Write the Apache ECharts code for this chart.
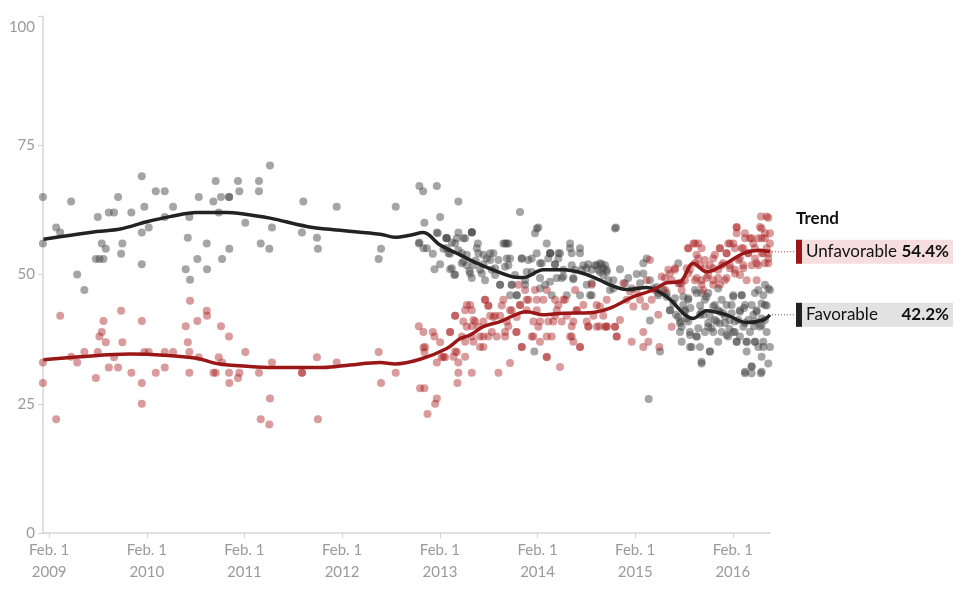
<!DOCTYPE html>
<html>
<head>
<meta charset="utf-8">
<title>Favorable / Unfavorable trend</title>
<script src="https://cdn.jsdelivr.net/npm/echarts@6/dist/echarts.min.js"></script>
<style>
  html, body { margin: 0; padding: 0; background: #fff; }
  #chart { width: 980px; height: 597px; }
</style>
</head>
<body>
<div id="chart"></div>
<script>
// poll readings, [decimal year, percent]
var favPolls = [
  [2009.021,65.0],[2009.021,56.0],[2009.157,59.1],[2009.198,58.1],[2009.310,64.1],[2009.372,50.0],[2009.446,47.0],[2009.563,53.0],[2009.583,61.1],[2009.600,53.0],[2009.624,56.0],[2009.641,53.0],[2009.665,55.0],[2009.696,62.0],[2009.750,62.0],[2009.791,65.0],[2009.822,54.0],[2009.835,56.0],[2009.927,62.0],
  [2010.034,69.0],[2010.034,58.1],[2010.034,52.0],[2010.060,63.1],[2010.105,59.1],[2010.177,66.1],[2010.269,66.1],[2010.269,61.1],[2010.354,63.1],[2010.484,51.0],[2010.505,57.1],[2010.521,61.1],[2010.528,49.0],[2010.603,53.0],[2010.617,65.0],[2010.699,56.0],[2010.702,51.0],[2010.767,64.1],[2010.791,68.1],[2010.822,62.0],[2010.845,65.0],[2010.856,53.0],[2010.927,65.0],[2010.929,65.0],[2010.930,55.0],
  [2011.019,68.1],[2011.033,66.1],[2011.094,60.0],[2011.234,68.1],[2011.234,66.1],[2011.252,56.0],[2011.340,55.0],[2011.347,71.1],[2011.367,59.1],[2011.674,58.1],[2011.688,64.1],[2011.828,57.1],[2011.838,55.0],
  [2012.030,63.1],[2012.459,53.0],[2012.483,55.0],[2012.633,63.1],[2012.869,56.0],[2012.875,67.1],[2012.913,66.1],[2012.926,60.0],[2012.916,55.1],[2012.951,55.1],[2012.875,56.2],
  [2013.012,54.0],[2013.029,51.0],[2013.053,67.1],[2013.053,58.1],[2013.063,58.0],[2013.087,61.1],[2013.087,52.0],[2013.121,55.0],[2013.148,57.0],[2013.155,57.1],[2013.155,55.1],[2013.189,54.0],[2013.189,51.0],[2013.207,56.2],[2013.233,49.9],[2013.241,50.0],[2013.258,57.0],[2013.274,64.1],[2013.274,58.1],[2013.309,54.1],[2013.325,52.5],[2013.343,57.0],[2013.360,51.8],[2013.387,50.7],[2013.411,58.1],[2013.413,58.1],[2013.411,49.3],[2013.452,52.7],[2013.473,56.0],[2013.479,54.1],[2013.496,50.9],[2013.530,52.0],[2013.547,48.9],[2013.565,53.1],[2013.599,54.1],[2013.616,50.9],[2013.650,49.9],[2013.684,52.8],[2013.701,48.0],[2013.735,56.0],[2013.752,51.5],[2013.769,56.0],[2013.803,53.1],[2013.803,46.0],[2013.820,48.0],[2013.854,49.9],[2013.872,46.0],[2013.905,62.1],[2013.923,53.1],[2013.957,48.0],[2013.991,52.8],
  [2013.155,57.0],[2013.240,56.0],[2013.325,57.0],[2013.411,58.2],[2013.172,54.1],[2013.274,54.7],[2013.360,53.8],[2013.462,55.1],[2013.530,53.8],[2013.632,54.1],[2013.752,56.0],[2013.786,56.0],[2013.309,52.2],[2013.428,51.8],[2013.599,52.8],[2013.770,53.1],[2013.923,53.1],[2013.207,51.2],[2013.394,50.2],[2013.514,50.2],[2013.650,51.2],[2013.786,51.8],[2013.974,50.5],[2013.701,48.0],[2013.821,48.0],[2013.957,48.9],[2013.872,46.0],
  [2014.025,50.5],[2014.052,35.1],[2014.059,58.0],[2014.076,54.1],[2014.093,59.1],[2014.110,49.3],[2014.128,52.2],[2014.162,48.0],[2014.179,56.0],[2014.195,53.1],[2014.213,54.1],[2014.215,54.1],[2014.230,46.0],[2014.264,52.0],[2014.281,49.3],[2014.298,53.1],[2014.315,54.1],[2014.349,49.6],[2014.384,46.0],[2014.418,56.0],[2014.435,54.1],[2014.451,49.1],[2014.469,50.9],[2014.520,55.1],[2014.537,50.9],[2014.554,51.8],[2014.588,48.0],[2014.605,52.0],[2014.622,46.0],[2014.640,50.9],[2014.673,51.8],[2014.707,50.9],[2014.724,52.2],[2014.724,50.5],[2014.742,52.0],[2014.758,49.9],[2014.776,51.8],[2014.793,50.9],[2014.793,50.5],[2014.809,48.9],[2014.827,47.0],[2014.861,48.9],[2014.888,59.1],[2014.929,51.0],[2014.980,48.3],
  [2014.025,53.1],[2014.110,52.2],[2014.213,54.1],[2014.298,54.1],[2014.417,55.1],[2014.520,54.1],[2014.264,52.0],[2014.349,50.9],[2014.435,51.8],[2014.588,51.2],[2014.691,51.8],[2014.758,51.2],[2014.110,47.3],[2014.213,48.6],[2014.332,49.3],[2014.451,49.3],[2014.639,48.3],[2014.520,46.0],[2014.639,46.0],[2014.861,47.3],[2014.077,58.9],[2014.878,58.9],
  [2015.014,49.3],[2015.049,47.3],[2015.100,50.1],[2015.134,48.3],[2015.168,52.2],[2015.168,50.2],[2015.203,53.1],[2015.223,25.9],[2015.236,48.9],[2015.236,41.1],[2015.270,47.3],[2015.304,47.6],[2015.321,46.0],[2015.339,35.1],[2015.372,47.0],[2015.407,45.7],[2015.441,43.1],[2015.475,44.4],[2015.502,42.2],[2015.526,52.2],[2015.543,48.3],[2015.550,41.0],[2015.561,39.9],[2015.577,45.7],[2015.594,43.1],[2015.612,41.5],[2015.628,45.1],[2015.646,38.3],[2015.650,43.5],[2015.663,36.0],[2015.697,47.0],[2015.714,38.0],[2015.731,39.6],[2015.748,42.2],[2015.750,44.0],[2015.765,32.8],[2015.782,42.2],[2015.799,45.1],[2015.816,45.7],[2015.833,39.9],[2015.850,35.1],[2015.850,42.0],[2015.867,39.6],[2015.884,43.8],[2015.901,41.2],[2015.935,37.0],[2015.935,43.1],[2015.950,40.5],[2015.970,45.1],[2015.986,42.5],
  [2015.321,46.4],[2015.407,46.4],[2015.492,45.4],[2015.577,44.1],[2015.628,45.4],[2015.714,46.4],[2015.765,46.4],[2015.833,46.4],[2015.935,47.3],[2015.441,43.1],[2015.526,41.8],[2015.594,42.8],[2015.765,42.8],[2015.901,44.1],[2015.953,42.8],[2015.543,40.6],[2015.628,40.9],[2015.833,40.6],[2015.919,40.9],[2015.543,38.9],[2015.646,38.9],[2015.714,38.0],[2015.799,38.9],[2015.884,38.9],[2015.970,38.9],[2015.561,37.0],[2015.646,36.0],[2015.748,36.0],[2015.850,35.1],[2015.765,33.1],
  [2016.004,41.9],[2016.021,38.3],[2016.050,39.5],[2016.055,41.2],[2016.073,42.5],[2016.089,45.7],[2016.106,38.9],[2016.124,37.0],[2016.141,41.2],[2016.158,43.1],[2016.175,46.0],[2016.192,39.9],[2016.200,43.5],[2016.209,30.9],[2016.226,37.0],[2016.243,41.2],[2016.277,32.2],[2016.277,30.9],[2016.294,42.2],[2016.300,40.0],[2016.311,37.0],[2016.328,43.1],[2016.345,47.0],[2016.362,39.9],[2016.372,30.9],[2016.379,44.4],[2016.380,41.5],[2016.396,36.0],[2016.413,48.0],[2016.413,41.2],[2016.430,38.9],[2016.430,44.0],[2016.447,32.8],[2016.464,36.0],[2016.464,47.0],
  [2016.089,46.0],[2016.175,46.0],[2016.311,46.4],[2016.396,46.0],[2016.447,47.3],[2016.021,44.1],[2016.072,44.1],[2016.157,42.8],[2016.209,44.1],[2016.277,44.1],[2016.328,42.8],[2016.413,44.1],[2016.004,40.6],[2016.106,40.9],[2016.209,40.6],[2016.311,40.9],[2016.379,40.2],[2016.089,38.9],[2016.157,38.0],[2016.260,38.9],[2016.038,38.0],[2016.124,37.0],[2016.226,37.0],[2016.311,37.0],[2016.396,37.0],[2016.226,35.1],[2016.345,36.0],[2016.379,34.1],[2016.277,32.2],[2016.209,31.2],[2016.379,31.2]
];

var unfavPolls = [
  [2009.021,33.0],[2009.021,29.0],[2009.157,22.0],[2009.198,42.0],[2009.310,34.1],[2009.372,33.0],[2009.446,35.0],[2009.563,30.0],[2009.583,35.0],[2009.600,38.0],[2009.624,38.9],[2009.641,41.0],[2009.665,36.9],[2009.696,32.0],[2009.750,34.0],[2009.791,32.0],[2009.822,43.0],[2009.835,36.9],[2009.927,31.0],
  [2010.034,41.0],[2010.034,29.0],[2010.034,25.0],[2010.060,35.0],[2010.105,35.0],[2010.177,31.0],[2010.269,35.0],[2010.269,32.0],[2010.354,35.0],[2010.484,40.0],[2010.505,36.9],[2010.521,35.0],[2010.521,31.0],[2010.528,44.9],[2010.603,41.0],[2010.617,34.0],[2010.699,43.0],[2010.702,42.0],[2010.767,31.0],[2010.791,31.0],[2010.822,34.0],[2010.845,40.0],[2010.856,33.0],[2010.927,38.0],[2010.927,31.0],[2010.930,29.0],
  [2011.019,30.0],[2011.033,31.0],[2011.094,35.0],[2011.234,31.0],[2011.252,22.0],[2011.340,21.0],[2011.347,26.0],[2011.367,33.0],[2011.674,31.0],[2011.676,31.0],[2011.828,34.0],[2011.838,22.0],
  [2012.030,33.0],[2012.459,35.0],[2012.483,29.0],[2012.633,31.0],[2012.869,40.0],[2012.882,28.0],[2012.916,38.9],[2012.916,35.9],[2012.926,35.0],[2012.926,28.0],[2012.933,36.0],[2012.958,23.0],
  [2013.012,38.9],[2013.029,38.0],[2013.036,25.0],[2013.053,26.0],[2013.053,33.0],[2013.087,36.9],[2013.104,34.0],[2013.121,34.1],[2013.138,34.0],[2013.189,38.9],[2013.224,34.1],[2013.241,42.0],[2013.258,35.0],[2013.264,29.0],[2013.274,31.0],[2013.274,33.0],[2013.309,38.0],[2013.343,43.1],[2013.360,39.9],[2013.394,44.1],[2013.411,40.0],[2013.411,31.0],[2013.428,37.0],[2013.445,40.9],[2013.479,39.9],[2013.496,36.0],[2013.530,38.0],[2013.547,45.1],[2013.581,43.9],[2013.599,42.0],[2013.616,38.9],[2013.650,42.0],[2013.667,38.0],[2013.684,31.0],[2013.701,42.0],[2013.735,45.1],[2013.752,38.0],[2013.786,40.0],[2013.803,32.9],[2013.820,43.1],[2013.865,38.9],[2013.888,48.0],[2013.905,44.1],[2013.923,36.0],[2013.957,47.0],[2013.974,43.1],[2013.991,45.1],
  [2013.240,42.0],[2013.360,44.1],[2013.411,43.1],[2013.547,45.1],[2013.581,44.0],[2013.718,44.0],[2013.803,43.1],[2013.906,44.1],[2013.974,45.1],[2013.189,38.9],[2013.325,40.9],[2013.428,41.2],[2013.530,40.9],[2013.632,41.8],[2013.770,40.9],[2013.872,41.8],[2013.411,38.0],[2013.496,38.0],[2013.581,38.0],[2013.752,38.9],[2013.872,38.9],[2013.343,37.0],[2013.530,36.0],[2013.923,36.0],[2013.240,35.1],[2013.343,34.1],
  [2014.025,38.0],[2014.042,40.9],[2014.059,47.0],[2014.076,43.1],[2014.093,39.9],[2014.110,37.0],[2014.145,45.1],[2014.179,47.0],[2014.179,34.0],[2014.195,40.9],[2014.230,38.0],[2014.264,42.0],[2014.298,44.1],[2014.315,32.1],[2014.332,40.9],[2014.366,45.1],[2014.384,42.0],[2014.418,38.0],[2014.435,40.0],[2014.469,47.0],[2014.486,43.1],[2014.520,36.0],[2014.554,44.1],[2014.605,40.0],[2014.640,48.0],[2014.657,42.0],[2014.690,44.1],[2014.717,40.0],[2014.724,43.8],[2014.758,42.0],[2014.776,39.9],[2014.793,45.1],[2014.793,40.0],[2014.878,39.9],[2014.896,38.0],[2014.929,41.2],[2014.963,48.3],[2014.998,45.1],
  [2014.077,45.1],[2014.264,45.1],[2014.349,45.1],[2014.281,43.1],[2014.486,43.1],[2014.110,40.9],[2014.246,40.9],[2014.451,40.9],[2014.588,40.9],[2014.605,39.9],[2014.691,39.9],[2014.793,39.9],[2014.878,39.9],[2014.042,38.0],[2014.179,38.0],[2014.435,38.0],[2014.895,38.0],[2014.451,37.0],[2014.520,36.0],[2014.179,34.1],
  [2015.032,46.7],[2015.049,37.0],[2015.066,43.8],[2015.100,47.0],[2015.134,45.1],[2015.168,36.0],[2015.168,38.9],[2015.186,43.8],[2015.203,48.9],[2015.220,37.0],[2015.236,52.8],[2015.254,45.1],[2015.288,47.0],[2015.321,42.2],[2015.332,36.0],[2015.356,49.6],[2015.390,47.0],[2015.424,50.9],[2015.458,39.9],[2015.458,48.9],[2015.492,50.9],[2015.526,48.3],[2015.561,47.0],[2015.594,48.9],[2015.628,55.1],[2015.646,50.9],[2015.680,56.0],[2015.697,48.9],[2015.714,53.8],[2015.731,56.0],[2015.748,51.8],[2015.765,48.9],[2015.782,47.0],[2015.799,52.8],[2015.833,49.9],[2015.850,51.8],[2015.884,48.9],[2015.901,53.8],[2015.935,50.9],[2015.952,55.1],[2015.970,51.8],
  [2015.628,55.1],[2015.697,56.0],[2015.765,55.1],[2015.953,55.1],[2015.731,53.1],[2015.884,53.1],[2015.986,52.2],[2015.697,52.2],[2015.612,51.2],[2015.799,51.2],[2015.884,51.2],[2015.492,51.2],[2015.441,50.2],[2015.628,50.2],[2015.714,49.3],[2015.816,49.3],[2015.935,49.3],[2015.390,49.3],[2015.561,48.3],[2015.765,48.0],[2015.884,48.0],[2015.953,48.0],
  [2016.004,48.9],[2016.021,54.1],[2016.038,56.0],[2016.055,51.8],[2016.089,56.0],[2016.106,50.9],[2016.124,59.2],[2016.124,58.0],[2016.141,52.8],[2016.158,49.9],[2016.175,55.1],[2016.192,51.8],[2016.209,58.0],[2016.226,48.9],[2016.243,54.1],[2016.260,57.0],[2016.277,51.8],[2016.294,56.0],[2016.311,53.1],[2016.328,48.9],[2016.345,51.8],[2016.362,59.2],[2016.372,61.2],[2016.379,57.0],[2016.396,54.1],[2016.413,58.0],[2016.430,61.2],[2016.430,55.1],[2016.447,52.2],[2016.447,53.1],[2016.464,56.0],[2016.464,58.0],
  [2016.447,61.0],[2016.124,59.1],[2016.379,58.9],[2016.209,57.0],[2016.277,57.0],[2016.345,57.0],[2016.413,57.0],[2016.055,56.0],[2016.106,55.1],[2016.191,55.1],[2016.242,54.1],[2016.311,55.1],[2016.379,54.1],[2016.447,54.1],[2016.021,54.1],[2016.157,53.1],[2016.191,51.2],[2016.328,52.2],[2016.413,52.2],[2016.055,51.2],[2016.106,50.2],[2016.021,49.3]
];

// smoothed trend estimates
var favTrend = [
  [2009.027,56.8],[2009.573,58.3],[2009.812,58.8],[2010.085,60.2],[2010.323,61.2],[2010.597,62.0],[2010.904,62.0],[2011.040,61.8],[2011.347,60.9],[2011.723,59.3],[2012.030,58.6],[2012.473,57.8],[2012.626,57.2],[2012.780,57.6],[2012.916,58.1],
  [2013.087,55.7],[2013.292,53.8],[2013.463,52.2],[2013.803,49.7],[2013.939,49.4],[2014.144,50.9],[2014.349,50.9],[2014.554,50.2],[2014.724,48.9],[2014.827,48.0],[2014.998,47.1],[2015.203,47.5],[2015.407,45.7],[2015.680,41.5],[2015.816,43.0],[2016.021,42.2],[2016.226,40.7],[2016.396,41.2],[2016.464,42.2]
];
var unfavTrend = [
  [2009.027,33.5],[2009.402,34.1],[2009.914,34.6],[2010.255,34.4],[2010.597,33.8],[2010.801,32.8],[2011.142,32.2],[2011.378,32.0],[2011.889,32.0],[2012.166,32.5],[2012.473,33.0],[2012.626,32.7],[2012.882,33.6],
  [2013.155,35.7],[2013.292,37.6],[2013.394,38.3],[2013.530,39.9],[2013.701,40.9],[2013.974,42.8],[2014.144,42.2],[2014.349,42.5],[2014.622,42.6],[2014.827,43.5],[2015.066,45.7],[2015.270,47.0],[2015.407,48.4],[2015.543,48.6],[2015.680,52.2],[2015.816,50.5],[2016.021,52.2],[2016.192,54.1],[2016.362,54.7],[2016.464,54.4]
];

var tickYears = [2009, 2010, 2011, 2012, 2013, 2014, 2015, 2016];
var yTicks = [0, 25, 50, 75, 100];
var trendTitle = 'Trend';
var favName = 'Favorable';
var unfavName = 'Unfavorable';

function toTime(y) {
  var yr = Math.floor(y);
  var a = Date.UTC(yr, 0, 1), b = Date.UTC(yr + 1, 0, 1);
  return a + (y - yr) * (b - a);
}
function toSeries(arr) {
  return arr.map(function (p) { return [toTime(p[0]), p[1]]; });
}
var tickTimes = tickYears.map(function (y) { return Date.UTC(y, 1, 1); });

var fontFam = 'Lato, "Noto Sans", sans-serif';
var axisGrey = '#d4d4d4';
var labelGrey = '#9a9a9a';
var favColor = '#222222';
var unfavColor = '#9b1616';

var chart = echarts.init(document.getElementById('chart'));
var option = {
  animation: false,
  grid: { left: 43, right: 210, top: 16, bottom: 64 },
  xAxis: {
    // timestamps on a plain value axis so the Feb. 1 ticks can be placed exactly
    type: 'value',
    min: Date.UTC(2009, 0, 9),
    max: Date.UTC(2016, 5, 19),
    axisLine: { show: true, lineStyle: { color: axisGrey, width: 1.5 } },
    axisTick: { show: true, customValues: tickTimes, length: 5, lineStyle: { color: axisGrey } },
    axisLabel: {
      customValues: tickTimes,
      color: labelGrey, fontSize: 15, fontFamily: fontFam, lineHeight: 22, margin: 6,
      formatter: function (v) { return 'Feb. 1\n' + new Date(v).getUTCFullYear(); }
    },
    splitLine: { show: false }
  },
  yAxis: {
    type: 'value', min: 0, max: 100, interval: 25,
    axisLine: { show: true, lineStyle: { color: axisGrey, width: 1.5 } },
    axisTick: { show: true, length: 5, lineStyle: { color: axisGrey } },
    axisLabel: {
      color: labelGrey, fontSize: 15, fontFamily: fontFam, margin: 8,
      formatter: function (v) { return v === yTicks[yTicks.length - 1] ? '{top|' + v + '}' : String(v); },
      rich: { top: { color: labelGrey, fontSize: 15, fontFamily: fontFam, padding: [22, 0, 0, 0] } }
    },
    splitLine: { show: false }
  },
  series: [
    { name: favName, type: 'scatter', data: toSeries(favPolls), symbolSize: 8,
      itemStyle: { color: 'rgba(60,60,60,0.58)' }, z: 2 },
    { name: unfavName, type: 'scatter', data: toSeries(unfavPolls), symbolSize: 8,
      itemStyle: { color: 'rgba(168,28,28,0.55)' }, z: 2 },
    { name: favName + ' trend', type: 'line', data: toSeries(favTrend), showSymbol: false, smooth: 0.35,
      lineStyle: { color: favColor, width: 3.5 }, z: 4 },
    { name: unfavName + ' trend', type: 'line', data: toSeries(unfavTrend), showSymbol: false, smooth: 0.35,
      lineStyle: { color: unfavColor, width: 3.5 }, z: 4 }
  ]
};
chart.setOption(option);

// trend labels on the right, lined up with the last trend estimate
function trendLabel(trend, name, barColor, boxColor, dotColor) {
  var last = trend[trend.length - 1];
  var p = chart.convertToPixel({ gridIndex: 0 }, [toTime(last[0]), last[1]]);
  var bx = 796, bw = 157, bh = 24;
  return [
    { type: 'line', shape: { x1: p[0] + 2, y1: p[1], x2: bx, y2: p[1] },
      style: { stroke: dotColor, lineWidth: 1, lineDash: [1, 2] } },
    { type: 'rect', shape: { x: bx, y: p[1] - bh / 2, width: bw, height: bh }, style: { fill: boxColor } },
    { type: 'rect', shape: { x: bx, y: p[1] - bh / 2, width: 6, height: bh }, style: { fill: barColor } },
    { type: 'text', x: bx + 10, y: p[1],
      style: { text: name, fill: '#111', font: '17px ' + fontFam, verticalAlign: 'middle' } },
    { type: 'text', x: bx + bw - 4, y: p[1],
      style: { text: last[1].toFixed(1) + '%', fill: '#111', font: 'bold 17px ' + fontFam, align: 'right', verticalAlign: 'middle' } }
  ];
}
var g = [{ type: 'text', x: 796, y: 219,
  style: { text: trendTitle, fill: '#111', font: 'bold 17px ' + fontFam, verticalAlign: 'middle' } }];
g = g.concat(trendLabel(unfavTrend, unfavName, unfavColor, '#f6dede', '#b04545'));
g = g.concat(trendLabel(favTrend, favName, favColor, '#e2e2e2', '#555'));
chart.setOption({ graphic: g });
</script>
</body>
</html>
